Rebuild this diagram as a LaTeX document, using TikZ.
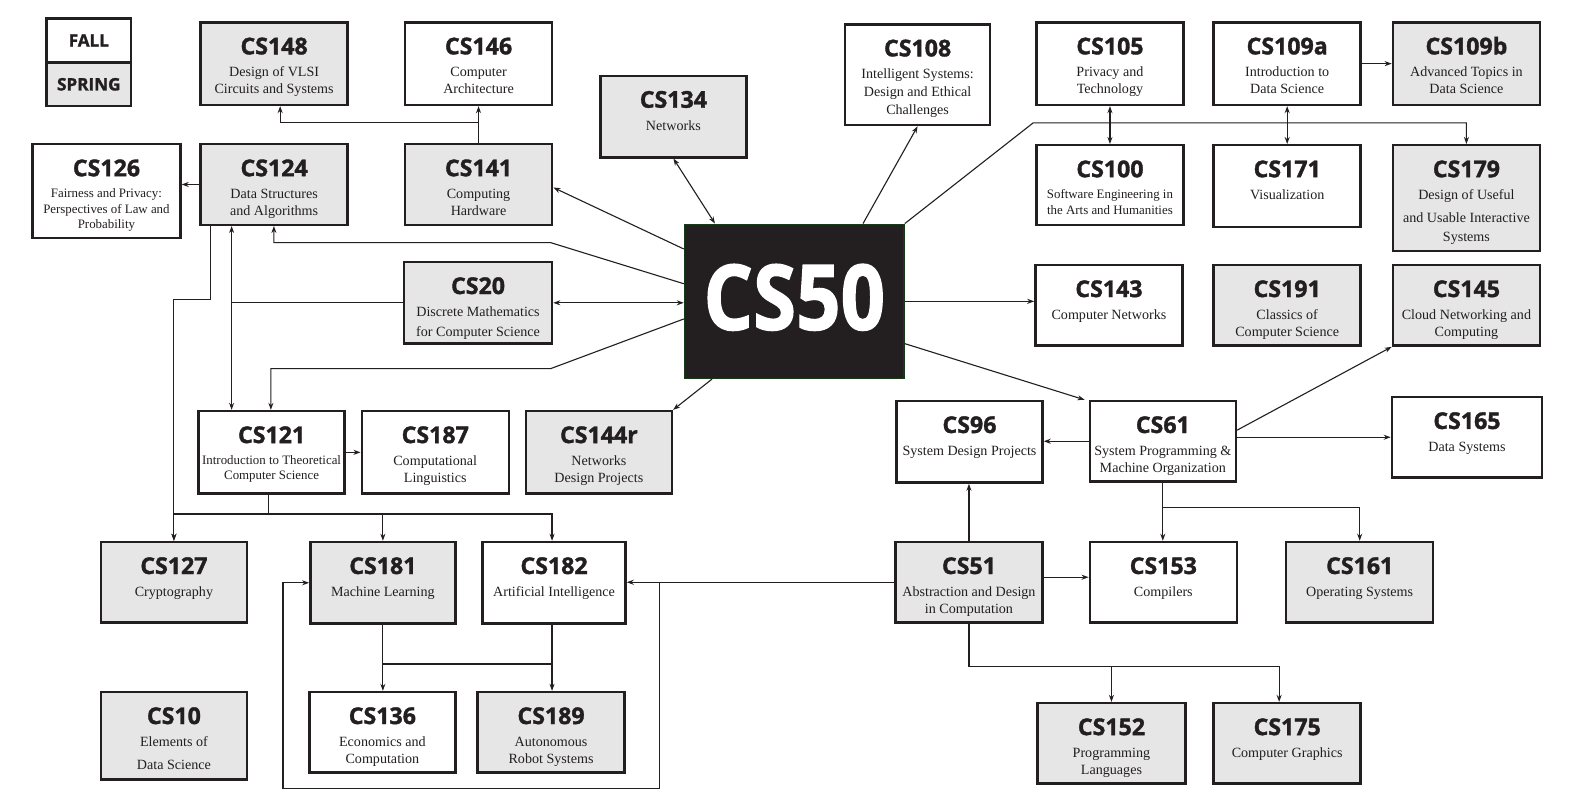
\documentclass[tikz,border=0pt]{standalone}
\usepackage{fontspec}
\setmainfont{Liberation Serif}
\newfontfamily\headfont{Open Sans}[BoldFeatures={FakeBold=1.5}]
\usetikzlibrary{arrows.meta,calc}
\definecolor{ink}{HTML}{231F20}
\definecolor{boxgray}{HTML}{E6E6E6}
\definecolor{cfgreen}{HTML}{163A16}
\tikzset{
  course/.style={draw=ink, line width=2.4pt, inner sep=0pt, anchor=north west},
  fallbox/.style={course, fill=white},
  springbox/.style={course, fill=boxgray},
  ctitle/.style={font=\headfont\bfseries\fontsize{23}{23}\selectfont, text=ink, inner sep=0pt, anchor=base},
  cdesc/.style={font=\fontsize{14}{17}\selectfont, text=ink, align=center, inner sep=0pt, anchor=north},
  smalldesc/.style={font=\fontsize{12.8}{15.5}\selectfont},
  conn/.style={draw=ink, line width=1.1pt},
  arr/.style={conn, -{Stealth[length=7pt,width=5pt]}},
  darr/.style={conn, {Stealth[length=7pt,width=5pt]}-{Stealth[length=7pt,width=5pt]}},
  legendtext/.style={font=\headfont\bfseries\fontsize{17}{17}\selectfont, text=ink},
}
\newcommand\course[9]{%
  \node[#2, minimum width={#5pt-#3pt}, minimum height={#6pt-#4pt}] (#1) at (#3,#4) {};
  \node[ctitle] (#1t) at ($(#1.north)+(0,33)$) {#7};
  \node[cdesc,#9] (#1d) at ($(#1.north)+(0,43)$) {\strut #8};
}
\begin{document}
\begin{tikzpicture}[x=1pt,y=-1pt]
\fill[white] (0,0) rectangle (1568,805);
\useasboundingbox (0,0) rectangle (1568,805);

% legend
\node[fallbox, minimum width=84pt, minimum height=44pt, legendtext] (fall) at (45,17) {FALL};
\node[springbox, minimum width=84pt, minimum height=43pt, legendtext] (spring) at (45,61) {SPRING};

% courses
\course{cs148}{springbox}{198}{21}{344}{103}{CS148}{Design of VLSI\\Circuits and Systems}{}
\course{cs146}{fallbox}{401}{21}{547}{103}{CS146}{Computer\\Architecture}{}
\course{cs134}{springbox}{595}{74}{740}{155}{CS134}{Networks}{}
\course{cs108}{fallbox}{838}{23}{982}{123}{CS108}{Intelligent Systems:\\[1pt]Design and Ethical\\[1pt]Challenges}{}
\course{cs105}{fallbox}{1028}{21}{1174}{103}{CS105}{Privacy and\\Technology}{}
\course{cs109a}{fallbox}{1204}{21}{1350}{103}{CS109a}{Introduction to\\Data Science}{}
\course{cs109b}{springbox}{1382}{21}{1528}{103}{CS109b}{Advanced Topics in\\Data Science}{}
\course{cs126}{fallbox}{31}{142}{178}{235}{CS126}{Fairness and Privacy:\\Perspectives of Law and\\Probability}{smalldesc}
\course{cs124}{springbox}{198}{142}{344}{222}{CS124}{Data Structures\\and Algorithms}{}
\course{cs141}{springbox}{401}{142}{547}{222}{CS141}{Computing\\Hardware}{}
\course{cs100}{fallbox}{1028}{143}{1174}{222}{CS100}{Software Engineering in\\the Arts and Humanities}{smalldesc}
\course{cs171}{fallbox}{1204}{143}{1350}{224}{CS171}{Visualization}{}
\course{cs179}{springbox}{1382}{143}{1528}{248}{CS179}{Design of Useful\\[6pt]and Usable Interactive\\[2pt]Systems}{}
\course{cs20}{springbox}{400}{259}{547}{340}{CS20}{Discrete Mathematics\\[3pt]for Computer Science}{}
\course{cs143}{fallbox}{1027}{262}{1173}{342}{CS143}{Computer Networks}{}
\course{cs191}{springbox}{1204}{262}{1350}{342}{CS191}{Classics of\\Computer Science}{}
\course{cs145}{springbox}{1382}{262}{1528}{342}{CS145}{Cloud Networking and\\Computing}{}
\course{cs121}{fallbox}{196}{407}{341}{489}{CS121}{Introduction to Theoretical\\Computer Science}{smalldesc}
\course{cs187}{fallbox}{358}{407}{504}{489}{CS187}{Computational\\Linguistics}{}
\course{cs144r}{springbox}{521}{407}{666}{489}{CS144r}{Networks\\Design Projects}{}
\course{cs96}{fallbox}{889}{397}{1034}{478}{CS96}{System Design Projects}{}
\course{cs61}{fallbox}{1081}{397}{1226}{477}{CS61}{System Programming \&\\Machine Organization}{}
\course{cs165}{fallbox}{1381}{393}{1530}{473}{CS165}{Data Systems}{}
\course{cs127}{springbox}{99}{537}{244}{617}{CS127}{Cryptography}{}
\course{cs181}{springbox}{307}{537}{451}{618}{CS181}{Machine Learning}{}
\course{cs182}{fallbox}{478}{537}{620}{618}{CS182}{Artificial Intelligence}{}
\course{cs51}{springbox}{888}{537}{1034}{617}{CS51}{Abstraction and Design\\in Computation}{}
\course{cs153}{fallbox}{1081}{537}{1227}{617}{CS153}{Compilers}{}
\course{cs161}{springbox}{1276}{537}{1422}{617}{CS161}{Operating Systems}{}
\course{cs10}{springbox}{99}{686}{244}{773}{CS10}{Elements of\\[6pt]Data Science}{}
\course{cs136}{fallbox}{306}{686}{451}{766}{CS136}{Economics and\\Computation}{}
\course{cs189}{springbox}{473}{686}{619}{766}{CS189}{Autonomous\\Robot Systems}{}
\course{cs152}{springbox}{1029}{697}{1176}{777}{CS152}{Programming\\Languages}{}
\course{cs175}{springbox}{1204}{697}{1350}{777}{CS175}{Computer Graphics}{}

% CS50
\node[draw=cfgreen, fill=ink, line width=1.5pt, minimum width=218pt, minimum height=153pt, anchor=north west, inner sep=0pt] (cs50) at (679,222) {};
\node[font=\headfont\bfseries\fontsize{90}{90}\selectfont, text=white, inner sep=0pt] (cs50t) at ($(cs50.center)+(0,-4)$) {\scalebox{0.86}[1]{CS50}};

% ---- connectors ----
% CS141 -> CS146, CS148
\draw[arr] (cs141.north) -- (cs146.south);
\draw[arr] ($(cs141.north)+(0,-20)$) -| ([xshift=6pt]cs148.south);
% CS124 -> CS126
\draw[arr] (cs124.west) -- (cs124.west -| cs126.east);
% CS124 -> CS127
\draw[arr] ([xshift=11pt]cs124.south west) |- ($(cs127.north)+(0,-240)$) -- (cs127.north);
% CS124 <-> CS121, CS20
\coordinate (v1) at ([xshift=32pt]cs124.south west);
\draw[darr] (v1) -- (v1 |- cs121.north);
\draw[conn] (cs20.west) -- (cs20.west -| v1);
% CS50 -> CS141
\draw[arr] ($(cs50.west)+(0,-52)$) -- ($(cs141.east)+(0,3)$);
% CS50 -> CS124
\coordinate (k1) at (547,241);
\draw[arr] ($(cs50.west)+(0,-17.5)$) -- (k1) -| ([xshift=74pt]cs124.south west);
% CS50 <-> CS20
\draw[darr] (cs50.west |- cs20.east) -- (cs20.east);
% CS50 -> CS121
\coordinate (k2) at (547,366);
\draw[arr] ($(cs50.west)+(0,17.5)$) -- (k2) -| ([xshift=73pt]cs121.north west);
% CS50 -> CS144r
\draw[arr] ([xshift=28pt]cs50.south west) -- (cs144r.north east);
% CS50 <-> CS134
\draw[darr] (cs134.south) -- ([xshift=31pt]cs50.north west);
% CS50 -> CS108
\draw[arr] ([xshift=178pt]cs50.north west) -- (cs108.south);
% CS50 -> CS179
\coordinate (k3) at (1026,122);
\draw[arr] (cs50.north east) -- (k3) -| (cs179.north);
% CS105 <-> CS100, CS109a <-> CS171, CS109a -> CS109b
\draw[darr] (cs105.south) -- (cs100.north);
\draw[darr] (cs109a.south) -- (cs171.north);
\draw[arr] (cs109a.east) -- (cs109b.west);
% CS50 -> CS143
\draw[arr] (cs50.east) -- (cs50.east -| cs143.west);
% CS50 -> CS61
\draw[arr] ($(cs50.east)+(0,42)$) -- ([xshift=-4pt]cs61.north west);
% CS61 -> CS96, CS165, CS145
\draw[arr] (cs61.west) -- (cs61.west -| cs96.east);
\coordinate (c61e) at ($(cs61.east)+(0,-4)$);
\draw[arr] (c61e) -- (c61e -| cs165.west);
\draw[arr] ($(cs61.east)+(0,-11)$) -- (cs145.south west);
% CS61 -> CS153, CS161
\draw[arr] (cs61.south) -- (cs61.south |- cs153.north);
\draw[arr] ($(cs61.south)+(0,25)$) -| (cs161.north);
% CS51 -> CS96
\draw[arr] (cs51.north) -- (cs51.north |- cs96.south);
% CS51 -> CS153
\coordinate (c51e) at ($(cs51.east)+(0,-5)$);
\draw[arr] (c51e) -- (c51e -| cs153.west);
% CS51 -> CS182, CS181
\draw[arr] (cs51.west) -- (cs51.west -| cs182.east);
\coordinate (L1) at (655,577);
\draw[arr] (cs51.west -| L1) -- ++(0,205) -| ([xshift=-26pt]cs181.west) -- (cs181.west);
% CS51 -> CS152, CS175
\coordinate (m51) at ($(cs152.north)+(0,-35)$);
\draw[arr] (cs51.south) |- (m51) -- (cs152.north);
\draw[arr] (m51) -| ([xshift=-8pt]cs175.north);
% CS121 -> CS127, CS181, CS182
\coordinate (b121) at ($(cs121.south)+(-3,19)$);
\draw[conn] ([xshift=-3pt]cs121.south) -- (b121);
\draw[arr] (b121) -| (cs127.north);
\draw[arr] (b121) -| (cs181.north);
\draw[arr] (b121) -| ([xshift=-2pt]cs182.north);
% CS121 -> CS187
\draw[arr] (cs121.east) -- (cs121.east -| cs187.west);
% CS181, CS182 -> CS136, CS189
\coordinate (c182s) at ([xshift=-2pt]cs182.south);
\draw[arr] (cs181.south) -- (cs181.south |- cs136.north);
\draw[arr] (c182s) -- (c182s |- cs189.north);
\coordinate (m1) at ($(cs181.south)+(0,39)$);
\draw[conn] (m1) -- (m1 -| c182s);
\end{tikzpicture}
\end{document}
